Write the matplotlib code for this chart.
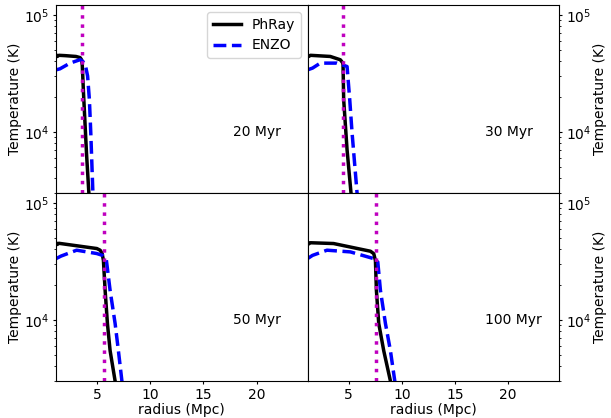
import numpy as np
import matplotlib
matplotlib.use("Agg")
import matplotlib.pyplot as plt

# temperature profiles at four times (radius in Mpc, T in K)
ages = ["20 Myr", "30 Myr", "50 Myr", "100 Myr"]

phray_r = [
    [1.13, 1.25, 1.4, 2.0, 3.0, 3.4, 3.55, 3.6, 3.72, 4.0, 4.25],
    [1.13, 1.25, 1.4, 3.27, 4.22, 4.42, 4.47, 4.53, 4.85, 5.22, 5.4],
    [1.13, 1.25, 1.4, 4.97, 5.28, 5.47, 5.59, 5.75, 5.97, 6.22, 6.69, 6.9],
    [1.13, 1.25, 1.4, 3.58, 7.05, 7.36, 7.52, 7.61, 7.83, 8.3, 8.93, 9.1],
]
phray_T = [
    [45500, 44000, 45000, 44700, 44000, 43000, 41000, 37000, 21000, 6500, 2700],
    [45500, 44000, 45000, 44000, 41200, 39000, 37400, 18800, 7000, 3000, 2500],
    [45500, 44000, 45000, 40600, 39300, 36800, 32200, 17800, 9230, 5440, 3000, 2600],
    [46000, 44500, 45500, 44800, 38500, 36700, 32000, 17800, 9300, 5440, 3000, 2700],
]

enzo_r = [
    [1.13, 1.5, 2.45, 3.4, 3.85, 4.1, 4.27, 4.4, 4.6, 4.7],
    [1.13, 1.6, 2.33, 3.9, 4.37, 4.85, 5.1, 5.32, 5.79, 5.9],
    [1.13, 1.6, 3.07, 4.96, 5.5, 5.85, 6.22, 6.69, 7.0, 7.33, 7.5],
    [1.13, 1.6, 2.96, 5.16, 7.36, 7.74, 7.99, 8.46, 8.93, 9.34, 9.5],
]
enzo_T = [
    [33800, 34500, 38600, 41300, 38600, 30000, 18800, 9800, 3000, 2600],
    [33800, 35000, 38600, 38600, 37400, 36100, 18800, 9800, 3000, 2700],
    [33300, 35000, 39300, 36800, 35500, 33300, 17800, 9300, 5440, 3000, 2600],
    [33300, 35500, 39300, 38000, 33300, 31200, 17800, 9300, 5440, 3000, 2600],
]

# analytic front position
front_r = [3.55, 4.43, 5.69, 7.58]

plt.rcParams["xtick.major.size"] = 2.5
plt.rcParams["ytick.major.size"] = 2.5
plt.rcParams["ytick.minor.size"] = 1.5
plt.rcParams["xtick.major.pad"] = 2.5
plt.rcParams["ytick.major.pad"] = 2.5
plt.rcParams["ytick.minor.pad"] = 2.5

fig, axes = plt.subplots(2, 2, sharex=True, sharey=True, figsize=(6.11, 4.18), dpi=100)
fig.subplots_adjust(left=0.0917, right=0.915, top=0.988, bottom=0.0885, wspace=0, hspace=0)

for i, ax in enumerate(axes.flat):
    ax.plot(phray_r[i], phray_T[i], "k-", lw=2.5, label="PhRay")
    ax.plot(enzo_r[i], enzo_T[i], "b--", lw=2.5, label="ENZO")
    ax.axvline(front_r[i], color="m", ls=":", lw=2.5)
    ax.set_yscale("log")
    ax.set_xlim(1.13, 24.8)
    ax.set_ylim(3000, 1.21e5)
    ax.text(17.8, 1e4, ages[i], va="center", ha="left", fontsize=10)
    ax.set_ylabel("Temperature (K)", fontsize=10, labelpad=1)
    if i % 2 == 1:
        ax.yaxis.tick_right()
        ax.tick_params(axis="y", which="both", labelright=True, labelleft=False)
        ax.yaxis.set_label_position("right")
    if i < 2:
        ax.tick_params(axis="x", bottom=False, labelbottom=False)
    else:
        ax.set_xlabel("radius (Mpc)", fontsize=10, labelpad=1)

axes[0, 0].legend(loc="upper right", fontsize=10)

fig.savefig("out.png", dpi=100)
